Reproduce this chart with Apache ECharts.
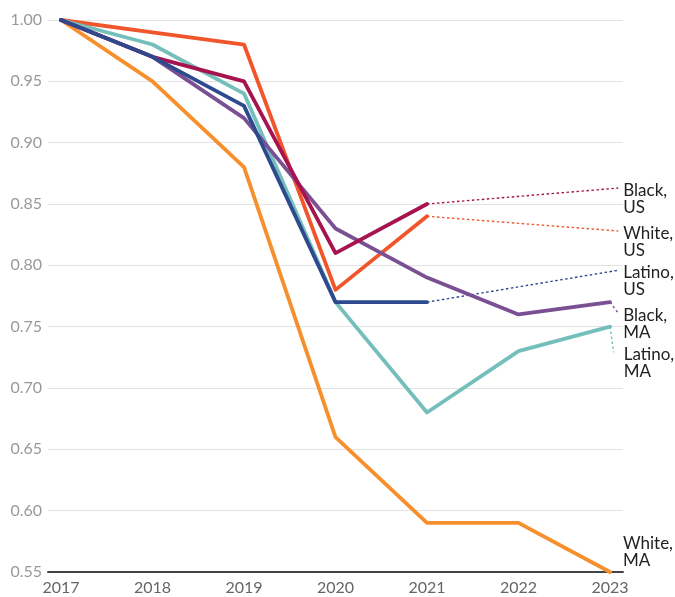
<!DOCTYPE html>
<html>
<head>
<meta charset="utf-8">
<script src="https://cdn.jsdelivr.net/npm/echarts@6/dist/echarts.min.js"></script>
<style>
  html, body { margin: 0; padding: 0; background: #fff; }
  #chart { width: 675px; height: 597px; }
</style>
</head>
<body>
<div id="chart"></div>
<script>
  const years = [2017, 2018, 2019, 2020, 2021, 2022, 2023];

  const whiteMA = [1.00, 0.95, 0.88, 0.66, 0.59, 0.59, 0.55];
  const whiteUS = [1.00, 0.99, 0.98, 0.78, 0.84];
  const blackUS = [1.00, 0.97, 0.95, 0.81, 0.85];
  const latinoUS = [1.00, 0.97, 0.93, 0.77, 0.77];
  const blackMA = [1.00, 0.97, 0.92, 0.83, 0.79, 0.76, 0.77];
  const latinoMA = [1.00, 0.98, 0.94, 0.77, 0.68, 0.73, 0.75];

  // where the dotted leaders end (label anchors), in data units
  const labelX = [2023.09, 2023.09, 2023.09, 2023.09, 2023.04];
  const labelY = [0.863, 0.828, 0.796, 0.761, 0.729];

  const yTicks = [0.55, 0.60, 0.65, 0.70, 0.75, 0.80, 0.85, 0.90, 0.95, 1.00];

  const pts = function (vals) {
    return vals.map((v, i) => [years[i], v]);
  };

  const lines = [
    { name: 'White,\nMA', data: whiteMA, color: '#F7902C' },
    { name: 'White,\nUS', data: whiteUS, color: '#F1552B' },
    { name: 'Latino,\nMA', data: latinoMA, color: '#74BFBB' },
    { name: 'Black,\nMA', data: blackMA, color: '#7A5093' },
    { name: 'Black,\nUS', data: blackUS, color: '#A7134E' },
    { name: 'Latino,\nUS', data: latinoUS, color: '#2E4A8E' }
  ];

  // leader order matches labelX / labelY
  const leaders = ['Black,\nUS', 'White,\nUS', 'Latino,\nUS', 'Black,\nMA', 'Latino,\nMA'];

  const labelStyle = {
    fontFamily: 'Lato',
    fontSize: 17,
    lineHeight: 17,
    color: '#222'
  };

  const series = lines.map(l => ({
    name: l.name,
    type: 'line',
    data: pts(l.data),
    symbol: 'none',
    lineStyle: { color: l.color, width: 3.8, cap: 'round', join: 'round' },
    z: 3,
    endLabel: l.name === 'White,\nMA'
      ? Object.assign({ show: true, formatter: l.name, distance: 13, offset: [0, -20] }, labelStyle)
      : { show: false }
  }));

  leaders.forEach((name, i) => {
    const src = lines.find(l => l.name === name);
    const d = src.data;
    series.push({
      name: name + ' leader',
      type: 'line',
      data: [[years[d.length - 1], d[d.length - 1]], [labelX[i], labelY[i]]],
      symbol: 'none',
      silent: true,
      z: 2,
      lineStyle: { color: src.color, width: 1.4, type: [2.5, 2.5] },
      endLabel: Object.assign({
        show: true,
        formatter: name,
        distance: i === 4 ? 10 : 5,
        offset: [0, 11]
      }, labelStyle)
    });
  });

  const chart = echarts.init(document.getElementById('chart'), null, { renderer: 'canvas' });
  chart.setOption({
    animation: false,
    backgroundColor: '#fff',
    grid: { left: 48, right: 52, top: 20, bottom: 25 },
    xAxis: {
      type: 'value',
      min: 2016.858,
      max: 2023.142,
      splitLine: { show: false },
      axisTick: { show: false },
      axisLine: { show: true, lineStyle: { color: '#444', width: 2 } },
      axisLabel: {
        customValues: years,
        formatter: v => String(v),
        color: '#666',
        fontFamily: 'Lato',
        fontSize: 16,
        margin: 8
      }
    },
    yAxis: {
      type: 'value',
      min: 0.55,
      max: 1.00,
      interval: 0.05,
      axisLine: { show: false },
      axisTick: { show: false },
      splitLine: { lineStyle: { color: '#e3e3e3', width: 1.2 } },
      axisLabel: {
        customValues: yTicks,
        formatter: v => v.toFixed(2),
        color: '#999',
        fontFamily: 'Lato',
        fontSize: 16,
        margin: 6
      }
    },
    series: series
  });
</script>
</body>
</html>
